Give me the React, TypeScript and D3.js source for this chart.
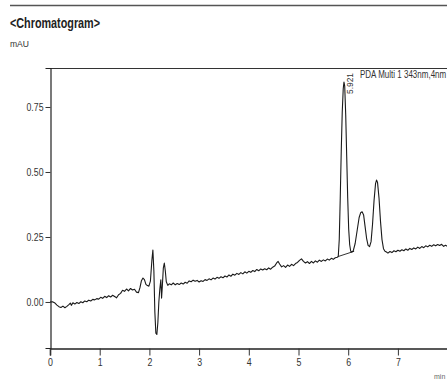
import React, { useEffect, useRef } from 'react';
import * as d3 from 'd3';

// chromatogram trace (min, mAU)
const retentionTimes = [
  0.00, 0.05, 0.10, 0.14, 0.18, 0.22, 0.26, 0.30, 0.34, 0.38, 0.41, 0.43, 0.46, 0.50, 0.54, 0.58,
  0.62, 0.66, 0.70, 0.74, 0.78, 0.82, 0.86, 0.90, 0.94, 0.98, 1.02, 1.06, 1.10, 1.14, 1.18, 1.22,
  1.26, 1.30, 1.34, 1.38, 1.42, 1.46, 1.50, 1.54, 1.58, 1.62, 1.66, 1.70, 1.74, 1.78, 1.81, 1.84,
  1.87, 1.90, 1.93, 1.96, 1.99, 2.02, 2.05, 2.07, 2.09, 2.11, 2.13, 2.15, 2.17, 2.19, 2.21, 2.23,
  2.245, 2.26, 2.28, 2.30, 2.32, 2.34, 2.37, 2.40, 2.44, 2.48, 2.52, 2.56, 2.60, 2.64, 2.68, 2.72,
  2.76, 2.80, 2.84, 2.88, 2.92, 2.96, 3.00, 3.04, 3.08, 3.12, 3.16, 3.20, 3.24, 3.28, 3.32, 3.36,
  3.40, 3.44, 3.48, 3.52, 3.56, 3.60, 3.64, 3.68, 3.72, 3.76, 3.80, 3.84, 3.88, 3.92, 3.96, 4.00,
  4.04, 4.08, 4.12, 4.16, 4.20, 4.24, 4.28, 4.32, 4.36, 4.40, 4.44, 4.48, 4.52, 4.56, 4.59, 4.62,
  4.66, 4.70, 4.74, 4.78, 4.82, 4.86, 4.90, 4.94, 4.98, 5.02, 5.06, 5.10, 5.14, 5.18, 5.22, 5.26,
  5.30, 5.34, 5.38, 5.42, 5.46, 5.50, 5.54, 5.58, 5.62, 5.66, 5.70, 5.74, 5.78, 5.80, 5.82, 5.84,
  5.86, 5.88, 5.90, 5.915, 5.93, 5.95, 5.97, 5.99, 6.01, 6.03, 6.05, 6.07, 6.10, 6.14, 6.18, 6.22,
  6.25, 6.28, 6.31, 6.34, 6.37, 6.40, 6.43, 6.46, 6.49, 6.52, 6.55, 6.57, 6.59, 6.62, 6.65, 6.68,
  6.71, 6.74, 6.77, 6.80, 6.84, 6.88, 6.92, 6.96, 7.00, 7.04, 7.08, 7.12, 7.16, 7.20, 7.24, 7.28,
  7.32, 7.36, 7.40, 7.44, 7.48, 7.52, 7.56, 7.60, 7.64, 7.68, 7.72, 7.76, 7.80, 7.84, 7.88, 7.92,
  7.96, 8.00, 8.04
];
const absorbance = [
  0.000, 0.001, -0.004, -0.012, -0.018, -0.021, -0.016, -0.022, -0.017, -0.010, -0.004, -0.013, -0.003, -0.008, -0.002, -0.006,
  0.001, -0.003, 0.004, 0.001, 0.007, 0.004, 0.010, 0.008, 0.013, 0.011, 0.018, 0.014, 0.022, 0.017, 0.024, 0.019,
  0.026, 0.021, 0.016, 0.028, 0.033, 0.045, 0.041, 0.050, 0.043, 0.052, 0.046, 0.049, 0.038, 0.036, 0.055, 0.082,
  0.092, 0.086, 0.068, 0.063, 0.061, 0.080, 0.160, 0.200, 0.120, -0.040, -0.120, -0.125, -0.080, 0.000, 0.050, 0.085,
  0.015, 0.060, 0.130, 0.150, 0.120, 0.078, 0.064, 0.070, 0.066, 0.073, 0.066, 0.071, 0.067, 0.073, 0.069, 0.076,
  0.072, 0.081, 0.078, 0.084, 0.080, 0.083, 0.077, 0.082, 0.079, 0.086, 0.083, 0.089, 0.085, 0.092, 0.088, 0.095,
  0.091, 0.097, 0.093, 0.100, 0.096, 0.104, 0.099, 0.107, 0.103, 0.110, 0.106, 0.113, 0.108, 0.116, 0.111, 0.118,
  0.114, 0.121, 0.117, 0.125, 0.120, 0.127, 0.123, 0.128, 0.124, 0.131, 0.126, 0.134, 0.138, 0.150, 0.156, 0.146,
  0.135, 0.140, 0.133, 0.142, 0.137, 0.145, 0.140, 0.148, 0.152, 0.160, 0.166, 0.156, 0.150, 0.155, 0.148, 0.156,
  0.150, 0.158, 0.153, 0.161, 0.156, 0.162, 0.158, 0.165, 0.161, 0.168, 0.164, 0.170, 0.172, 0.175, 0.240, 0.400,
  0.580, 0.730, 0.820, 0.846, 0.830, 0.720, 0.560, 0.400, 0.280, 0.220, 0.196, 0.192, 0.196, 0.225, 0.275, 0.325,
  0.343, 0.347, 0.335, 0.290, 0.245, 0.218, 0.213, 0.232, 0.300, 0.390, 0.455, 0.469, 0.460, 0.400, 0.310, 0.240,
  0.205, 0.195, 0.192, 0.188, 0.194, 0.190, 0.197, 0.193, 0.199, 0.195, 0.201, 0.197, 0.204, 0.199, 0.206, 0.202,
  0.208, 0.204, 0.211, 0.206, 0.213, 0.209, 0.216, 0.212, 0.218, 0.214, 0.220, 0.216, 0.221, 0.217, 0.222, 0.214,
  0.218, 0.213, 0.216
];

// integration baseline under the labelled peak
const baselineTimes = [5.80, 6.12];
const baselineValues = [0.175, 0.195];

const peakTimes = [5.921];
const peakLabels = ['5.921'];

const yMajorTicks = [0, 0.25, 0.5, 0.75];
const xMajorTicks = [0, 1, 2, 3, 4, 5, 6, 7];

const FONT = '"Liberation Sans", Arial, sans-serif';

export default function App() {
  const ref = useRef<SVGSVGElement>(null);

  useEffect(() => {
    const svg = d3.select(ref.current);
    svg.selectAll('*').remove();

    const w = 447;
    const h = 381;
    const x = d3.scaleLinear().domain([0, 8]).range([50, 447.6]);
    const y = d3.scaleLinear().domain([-0.177, 0.9]).range([348, 68]);

    // header rule + title
    svg.append('line')
      .attr('x1', 10).attr('x2', w).attr('y1', 5.5).attr('y2', 5.5)
      .attr('stroke', '#555').attr('stroke-width', 1.6);
    svg.append('text')
      .attr('x', 10).attr('y', 28)
      .attr('textLength', 90).attr('lengthAdjust', 'spacingAndGlyphs')
      .style('font-family', FONT).style('font-size', '14px').style('font-weight', 'bold')
      .attr('fill', '#222')
      .text('<Chromatogram>');
    svg.append('text')
      .attr('x', 10).attr('y', 47)
      .attr('textLength', 19).attr('lengthAdjust', 'spacingAndGlyphs')
      .style('font-family', FONT).style('font-size', '9px')
      .attr('fill', '#333')
      .text('mAU');

    // frame top
    svg.append('line')
      .attr('x1', 50).attr('x2', w).attr('y1', 68.5).attr('y2', 68.5)
      .attr('stroke', '#333').attr('stroke-width', 1);

    // y axis
    const yMinor = d3.range(-0.15, 0.91, 0.05).map(v => +v.toFixed(2));
    const yg = svg.append('g').attr('transform', 'translate(50.5,0)');
    yg.call(d3.axisLeft(y).tickValues(yMinor).tickSize(3).tickFormat(() => ''));
    yg.call(d3.axisLeft(y).tickValues(yMajorTicks).tickSize(5).tickPadding(2)
      .tickFormat(d3.format('.2f')));
    yg.selectAll('path.domain').attr('stroke', '#222').attr('stroke-width', 1.2);
    yg.selectAll('line').attr('stroke', '#333');
    yg.selectAll('text')
      .attr('textLength', 17).attr('lengthAdjust', 'spacingAndGlyphs')
      .style('font-family', FONT).style('font-size', '10px').attr('fill', '#333');

    // x axis
    const xMinor = d3.range(0, 8.01, 0.2).map(v => +v.toFixed(1));
    const xg = svg.append('g').attr('transform', 'translate(0,348.5)');
    xg.call(d3.axisBottom(x).tickValues(xMinor).tickSize(4).tickFormat(() => ''));
    xg.call(d3.axisBottom(x).tickValues(xMajorTicks).tickSize(7).tickPadding(3)
      .tickFormat(d3.format('d')));
    xg.selectAll('path.domain').attr('stroke', '#222').attr('stroke-width', 1.6);
    xg.selectAll('line').attr('stroke', '#333');
    xg.selectAll('text').style('font-family', FONT).style('font-size', '11px').attr('fill', '#333')
      .attr('transform', 'scale(0.8,1)');

    svg.append('text')
      .attr('x', 434).attr('y', 379)
      .style('font-family', FONT).style('font-size', '7px').attr('fill', '#666')
      .text('min');

    // trace
    const pts: [number, number][] = retentionTimes.map((t, i) => [t, absorbance[i]]);
    const line = d3.line<[number, number]>().x(d => x(d[0])).y(d => y(d[1]));
    svg.append('path')
      .datum(pts)
      .attr('d', line)
      .attr('fill', 'none')
      .attr('stroke', '#1a1a1a')
      .attr('stroke-width', 1.1)
      .attr('stroke-linejoin', 'round');

    const base: [number, number][] = baselineTimes.map((t, i) => [t, baselineValues[i]]);
    svg.append('path')
      .datum(base)
      .attr('d', line)
      .attr('fill', 'none')
      .attr('stroke', '#1a1a1a')
      .attr('stroke-width', 0.9);

    // peak labels
    peakTimes.forEach((t, i) => {
      const px = x(t) + 6;
      svg.append('text')
        .attr('transform', `translate(${px},94) rotate(-90)`)
        .attr('dominant-baseline', 'middle')
        .attr('textLength', 21).attr('lengthAdjust', 'spacingAndGlyphs')
        .style('font-family', FONT).style('font-size', '9.5px').attr('fill', '#333')
        .text(peakLabels[i]);
    });

    svg.append('text')
      .attr('transform', 'translate(360,78) scale(0.8,1)')
      .style('font-family', FONT).style('font-size', '10px').attr('fill', '#333')
      .text('PDA Multi 1 343nm,4nm');

    svg.attr('width', w).attr('height', h);
  }, []);

  return (
    <svg ref={ref} width={447} height={381}
      style={{ position: 'absolute', left: 0, top: 0, background: '#fff' }} />
  );
}
